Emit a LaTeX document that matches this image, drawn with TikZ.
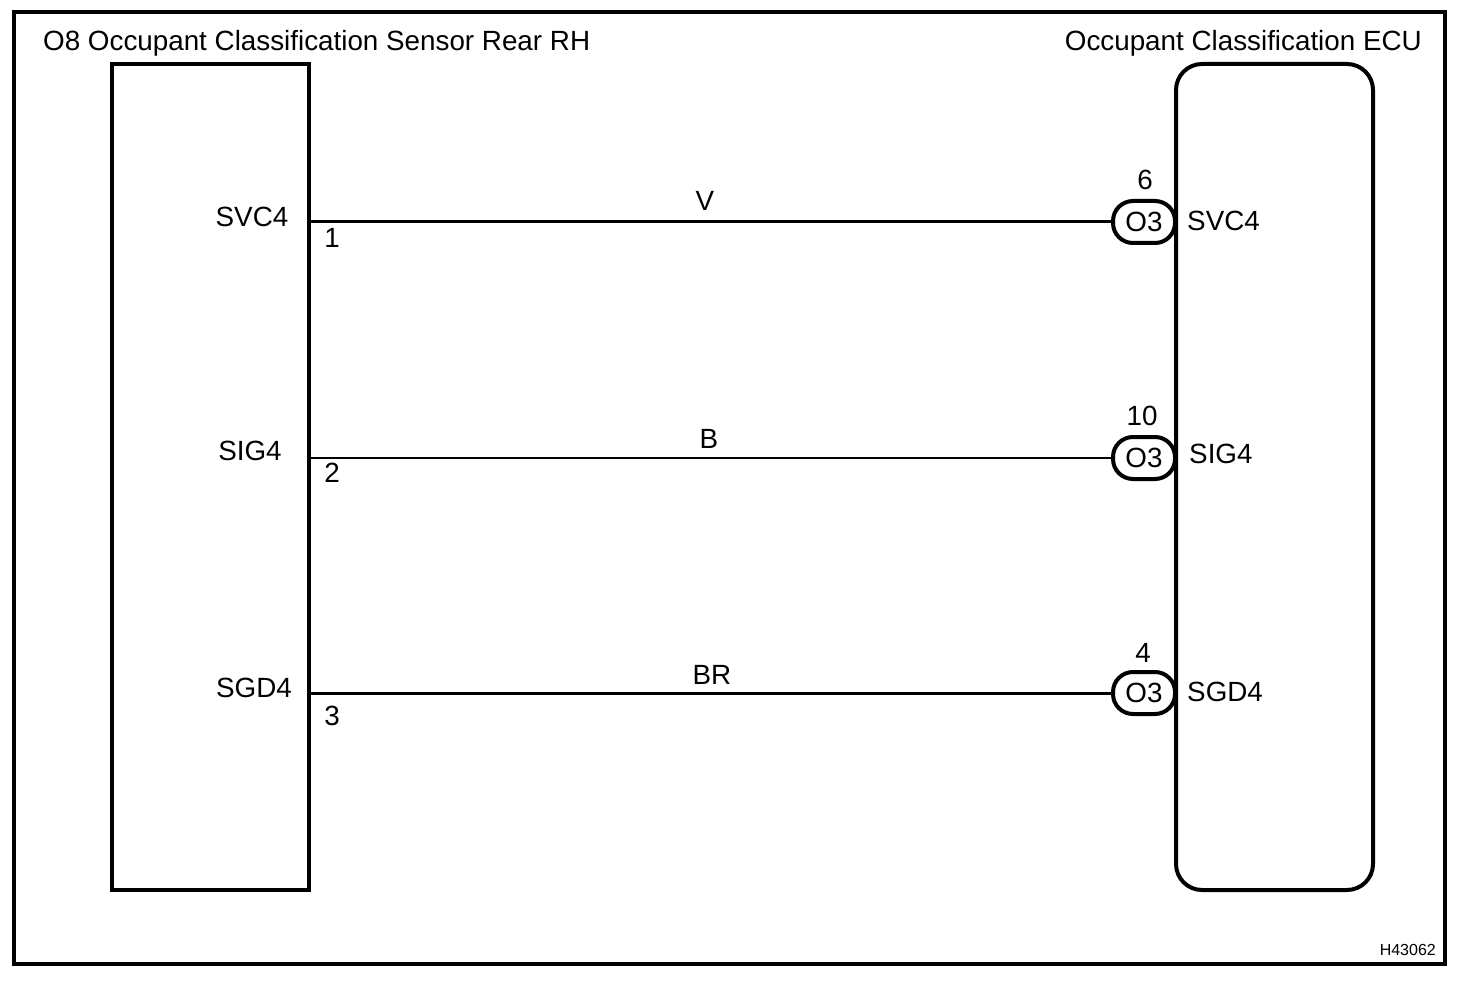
\documentclass[tikz,border=0pt]{standalone}
\usepackage{fontspec}
\setmainfont{Liberation Sans}
\usetikzlibrary{positioning}
\begin{document}
\begin{tikzpicture}[
      x=1pt,y=-1pt,
      box/.style={rectangle, draw, line width=4pt, inner sep=0pt, outer sep=0pt, anchor=north west},
      ecu/.style={box, rounded corners=26pt},
      plug/.style={rectangle, rounded corners=20pt, draw, line width=4pt, fill=white, outer sep=0pt, minimum width=62pt, minimum height=42pt, inner sep=0pt, font=\fontsize{27.8}{27.8}\selectfont},
      wire/.style={line width=3pt},
      label/.style={inner sep=0pt, font=\fontsize{27.8}{27.8}\selectfont},
    ]
    \useasboundingbox (0,0) rectangle (1472,984);
    \node (frame) [box, minimum width=1431pt, minimum height=952pt] at (14,12) {};
    \node (sensor) [box, minimum width=197pt, minimum height=826pt] at (112,64) {};
    \node (unit) [ecu, minimum width=197pt, minimum height=826pt] at (1176,64) {};
    \node (sensorname) [label, anchor=base west] at (43,51) {O8 Occupant Classification Sensor Rear RH};
    \node (unitname) [label, anchor=base east] at (1422,51) {Occupant Classification ECU};
    % connectors
    \node (p1) [plug] at (1144,222) {O3};
    \node (p2) [plug] at (1144,458) {O3};
    \node (p3) [plug] at (1144,693) {O3};
    \coordinate (s1) at (sensor.east |- p1);
    \coordinate (s2) at (sensor.east |- p2);
    \coordinate (s3) at (sensor.east |- p3);
    \draw[wire] (s1) -- (p1);
    \draw[wire, line width=2.2pt] (s2) -- (p2);
    \draw[wire] (s3) -- (p3);
    % left side
    \node (ls1) [label, anchor=base] at (252,227) {SVC4};
    \node (ls2) [label, anchor=base] at (250,460) {SIG4};
    \node (ls3) [label, anchor=base] at (254,697) {SGD4};
    \node (n1) [label, anchor=base] at (332,248) {1};
    \node (n2) [label, anchor=base] at (332,482) {2};
    \node (n3) [label, anchor=base] at (332,725) {3};
    % wire colours
    \node (c1) [label, anchor=base] at (705,211) {V};
    \node (c2) [label, anchor=base] at (709,448) {B};
    \node (c3) [label, anchor=base] at (712,684) {BR};
    % right side
    \node (t1) [label, anchor=base] at (1145,190) {6};
    \node (t2) [label, anchor=base] at (1142,425) {10};
    \node (t3) [label, anchor=base] at (1143,662) {4};
    \node (rs1) [label, anchor=base west] at (1187,231) {SVC4};
    \node (rs2) [label, anchor=base west] at (1189,463) {SIG4};
    \node (rs3) [label, anchor=base west] at (1187,701) {SGD4};
    \node (code) [inner sep=0pt, anchor=base east, font=\fontsize{16}{16}\selectfont] at (1436,955) {H43062};
\end{tikzpicture}
\end{document}
